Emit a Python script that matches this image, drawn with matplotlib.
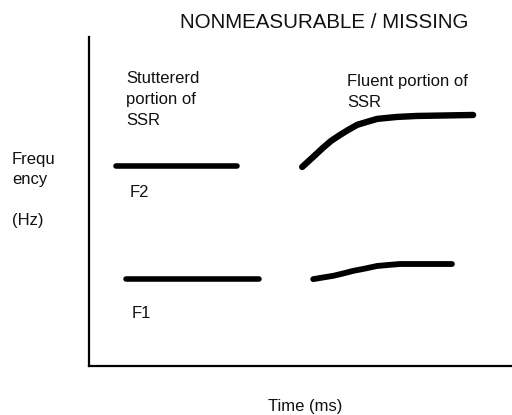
import matplotlib.pyplot as plt
import numpy as np

plt.rcParams["font.family"] = ["Liberation Sans", "DejaVu Sans"]

# time axis 0..100, frequency axis 0..100 (arbitrary units, sketch)
f2_stut_t = [6.4, 35.0]
f2_stut_f = [60.8, 60.8]
f2_flu_t = [50.4, 52.7, 55.3, 57.2, 59.3, 61.2, 63.4, 65.7, 68.1, 70.4, 72.8, 77.5, 90.8]
f2_flu_f = [60.5, 63.2, 66.3, 68.4, 70.2, 71.7, 73.3, 74.2, 75.1, 75.4, 75.7, 76.0, 76.3]

f1_stut_t = [8.7, 40.2]
f1_stut_f = [26.4, 26.4]
f1_flu_t = [53.0, 55.3, 57.7, 60.0, 62.4, 65.2, 68.1, 70.7, 73.5, 85.8]
f1_flu_f = [26.4, 26.9, 27.4, 28.1, 28.9, 29.6, 30.4, 30.7, 31.0, 31.0]

W, H = 512, 415
fig = plt.figure(figsize=(W / 100, H / 100), dpi=100)
ax = fig.add_axes([89 / W, (H - 366) / H, (W - 89) / W, (366 - 37) / H])
ax.set_xlim(0, 100)
ax.set_ylim(0, 100)
for s in ["top", "right"]:
    ax.spines[s].set_visible(False)
ax.spines["left"].set_linewidth(1.6)
ax.spines["bottom"].set_linewidth(1.6)
ax.set_xticks([])
ax.set_yticks([])

kw = dict(color="black", solid_capstyle="round", solid_joinstyle="round")
ax.plot(f2_stut_t, f2_stut_f, lw=4, **kw)
ax.plot(f2_flu_t, f2_flu_f, lw=4.6, **kw)
ax.plot(f1_stut_t, f1_stut_f, lw=4, **kw)
ax.plot(f1_flu_t, f1_flu_f, lw=4.2, **kw)


def px(x, y, s, size=12, ha="left"):
    fig.text(x / W, 1 - y / H, s, fontsize=size, ha=ha, va="baseline", color="#111111")


px(180, 28, "NONMEASURABLE / MISSING", size=14.8)
px(126, 83, "Stuttererd")
px(126, 104, "portion of")
px(126, 125, "SSR")
px(347, 86, "Fluent portion of")
px(347, 107, "SSR")
px(130, 197, "F2")
px(132, 318, "F1")
px(12, 164, "Frequ")
px(12, 184, "ency")
px(12, 225, "(Hz)")
px(305, 411, "Time (ms)", ha="center")

fig.savefig("out.png", dpi=100)
